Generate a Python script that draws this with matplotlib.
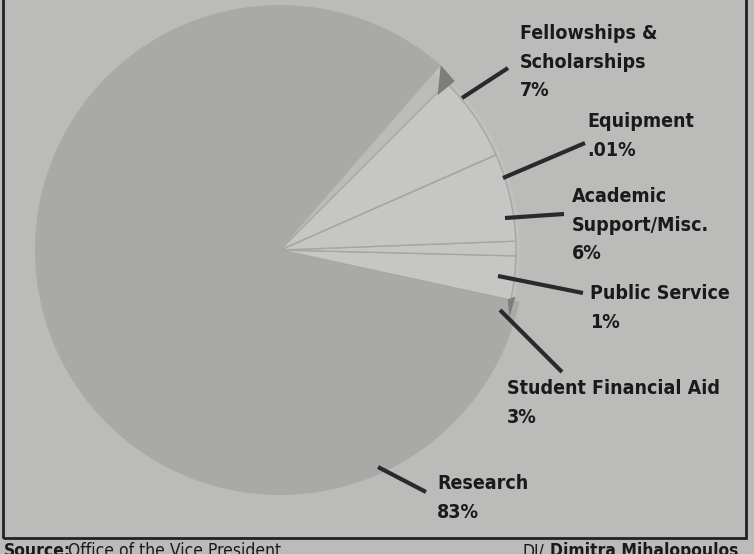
import numpy as np
import matplotlib.pyplot as plt
from matplotlib.patches import Wedge, Rectangle, Polygon

# budget shares, counterclockwise from the top-right edge of Research
labels = ['Research', 'Student Financial Aid', 'Public Service',
          'Academic Support/Misc.', 'Equipment', 'Fellowships & Scholarships']
shares = [83, 3, 1, 6, 0.01, 7]
label_text = ['Research\n83%', 'Student Financial Aid\n3%', 'Public Service\n1%',
              'Academic\nSupport/Misc.\n6%', 'Equipment\n.01%',
              'Fellowships &\nScholarships\n7%']

W, H = 754, 554
fig = plt.figure(figsize=(W / 100, H / 100), dpi=100)
fig.patch.set_facecolor('#bbbbb9')
ax = fig.add_axes([0, 0, 1, 1])
ax.set_xlim(0, W)
ax.set_ylim(0, H)
ax.axis('off')

font = dict(family='DejaVu Sans', fontstretch='condensed', color='#1a1a1a')

cx, cy = 280, H - 250
R = 245
start = 49

# angles of each slice
edges = [start]
for s in shares:
    edges.append(edges[-1] + s / sum(shares) * 360)


def polar(r, a):
    return (cx + r * np.cos(np.radians(a)), cy + r * np.sin(np.radians(a)))


# big slice
ax.add_patch(Wedge((cx, cy), R, edges[0], edges[1], facecolor='#a9a9a7',
                   edgecolor='none', zorder=2))
# thin lighter rim (back of the small slices)
ax.add_patch(Wedge((cx, cy), R - 5, edges[1], edges[0] + 360, width=6,
                   facecolor='#c0c0be', edgecolor='none', zorder=2))
# small slices, a bit smaller and lighter
for i in range(1, len(shares)):
    ax.add_patch(Wedge((cx, cy), R - 9, edges[i], edges[i + 1] - (4 if i == 5 else 0),
                       facecolor='#c6c6c4', edgecolor='#a6a6a4', lw=1.0, zorder=3))

# dark shadow triangles at the two edges of Research
a0 = edges[0] + 360
ax.add_patch(Polygon([polar(R, a0), polar(R - 2, a0 - 5), polar(R - 24, a0 - 4.5)],
                     closed=True, facecolor='#7d7d7b', edgecolor='none', zorder=4))
a1 = edges[1]
ax.add_patch(Polygon([polar(R - 12, a1), polar(R - 5, a1 + 1), polar(R - 6, a1 - 4)],
                     closed=True, facecolor='#7d7d7b', edgecolor='none', zorder=4))

# labels: (text x, text top y, leader start, leader end) in pixel coords from top
label_pos = [
    (437, 474, (378, 467), (426, 492)),
    (507, 379, (500, 310), (562, 372)),
    (590, 284, (498, 276), (583, 293)),
    (572, 187, (505, 218), (564, 214)),
    (587, 112, (503, 178), (585, 143)),
    (520, 24, (462, 98), (508, 68)),
]
for txt, (tx, ty, p0, p1) in zip(label_text, label_pos):
    ax.plot([p0[0], p1[0]], [H - p0[1], H - p1[1]], color='#2a2a2a', lw=3,
            solid_capstyle='butt', zorder=5)
    ax.text(tx, H - ty, txt, fontweight='bold', fontsize=14, ha='left',
            va='top', linespacing=1.64, zorder=6, **font)

# frame
ax.add_patch(Rectangle((3, H - 538), 743, 540, fill=False, edgecolor='#222222',
                       lw=2, zorder=7, clip_on=False))

ax.text(4, H - 551, 'Source:', fontweight='bold', fontsize=12.5, va='center', **font)
ax.text(68, H - 551, 'Office of the Vice President', fontsize=12.5, va='center', **font)
ax.text(523, H - 551, 'DI/', fontsize=12.5, va='center', **font)
ax.text(550, H - 551, 'Dimitra Mihalopoulos', fontweight='bold', fontsize=12.5,
        va='center', **font)

fig.savefig('out.png', dpi=100, facecolor=fig.get_facecolor())
